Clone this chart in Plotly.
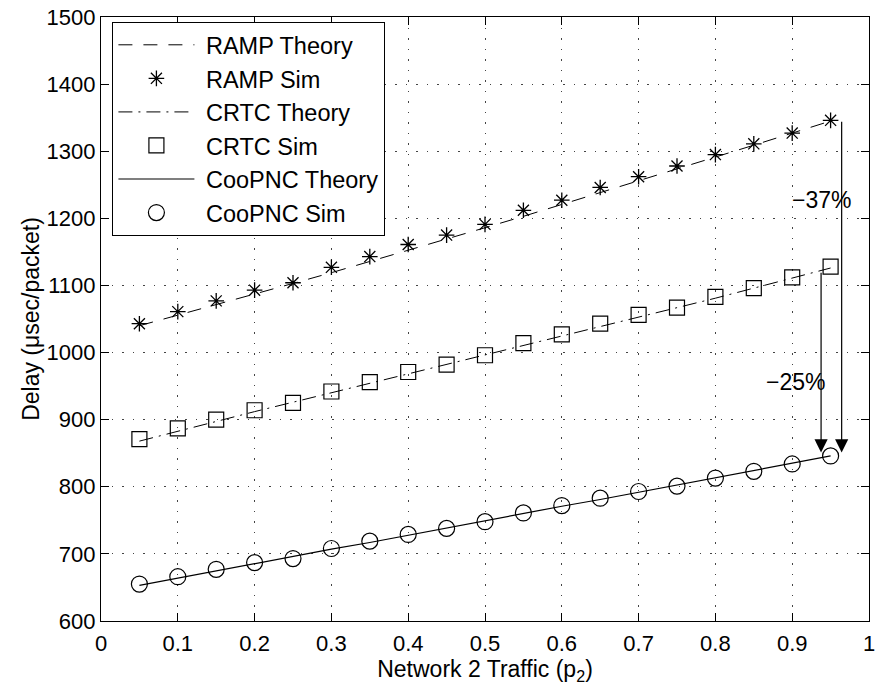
import plotly.graph_objects as go

x_vals = [0.05, 0.10, 0.15, 0.20, 0.25, 0.30, 0.35, 0.40, 0.45, 0.50,
          0.55, 0.60, 0.65, 0.70, 0.75, 0.80, 0.85, 0.90, 0.95]

ramp_theory = [1040, 1055.5, 1071, 1087, 1103, 1119, 1135.5, 1152, 1169, 1186,
               1203, 1220.5, 1238, 1255.5, 1273, 1291, 1309, 1327, 1345]
ramp_sim = [1043, 1061, 1077, 1093, 1104, 1127, 1143, 1161, 1175, 1191,
            1212, 1227, 1246, 1262, 1278, 1295, 1311, 1327, 1346]
crtc_theory = [868, 883, 898, 912, 926, 940, 954, 968, 982, 996,
               1010, 1024, 1038, 1052, 1066, 1081, 1096, 1111, 1126]
crtc_sim = [871, 887, 900, 914, 925, 942, 956, 971, 982, 996,
            1014, 1027, 1043, 1056, 1067, 1083, 1096, 1112, 1128]
coop_theory = [653, 664, 675, 685, 696, 707, 717, 728, 739, 749,
               760, 771, 781, 792, 803, 814, 824, 835, 846]
coop_sim = [655, 666, 677, 687, 693, 708, 719, 729, 738, 748,
            761, 772, 783, 793, 801, 813, 823, 834, 846]

x_ticks = [0, 0.1, 0.2, 0.3, 0.4, 0.5, 0.6, 0.7, 0.8, 0.9, 1]
x_ticktext = ["0", "0.1", "0.2", "0.3", "0.4", "0.5", "0.6", "0.7", "0.8", "0.9", "1"]
y_ticks = [600, 700, 800, 900, 1000, 1100, 1200, 1300, 1400, 1500]

FONT = "Liberation Sans, Arial, Helvetica, sans-serif"
BLK = "black"
PAD = "\u00a0"

fig = go.Figure()
fig.add_trace(go.Scatter(x=x_vals, y=ramp_theory, mode="lines", name=PAD + "RAMP Theory",
                         legendgroup="a",
                         line=dict(color=BLK, width=1, dash="14px,11px")))
fig.add_trace(go.Scatter(x=x_vals, y=ramp_sim, mode="markers", name=PAD + "RAMP Sim",
                         legendgroup="b",
                         marker=dict(symbol="asterisk-open", size=13, color=BLK,
                                     line=dict(color=BLK, width=1.3))))
fig.add_trace(go.Scatter(x=x_vals, y=crtc_theory, mode="lines", name=PAD + "CRTC Theory",
                         legendgroup="c",
                         line=dict(color=BLK, width=1, dash="14px,6px,2px,6px")))
fig.add_trace(go.Scatter(x=x_vals, y=crtc_sim, mode="markers", name=PAD + "CRTC Sim",
                         legendgroup="d",
                         marker=dict(symbol="square-open", size=15, color=BLK,
                                     line=dict(color=BLK, width=1.2))))
fig.add_trace(go.Scatter(x=x_vals, y=coop_theory, mode="lines", name=PAD + "CooPNC Theory",
                         legendgroup="e",
                         line=dict(color=BLK, width=1.2)))
fig.add_trace(go.Scatter(x=x_vals, y=coop_sim, mode="markers", name=PAD + "CooPNC Sim",
                         legendgroup="f",
                         marker=dict(symbol="circle-open", size=16, color=BLK,
                                     line=dict(color=BLK, width=1.2))))

# arrows
fig.add_annotation(x=0.9644, y=851, ax=0.9644, ay=ramp_sim[-1], xref="x", yref="y",
                   axref="x", ayref="y", showarrow=True, arrowhead=2, arrowsize=2.2,
                   arrowwidth=1.2, arrowcolor=BLK, text="")
fig.add_annotation(x=0.9376, y=851, ax=0.9376, ay=1121, xref="x", yref="y",
                   axref="x", ayref="y", showarrow=True, arrowhead=2, arrowsize=2.2,
                   arrowwidth=1.2, arrowcolor=BLK, text="")
fig.add_annotation(x=0.9385, y=1227, text="\u221237%", showarrow=False,
                   font=dict(family=FONT, size=23, color=BLK))
fig.add_annotation(x=0.904, y=956, text="\u221225%", showarrow=False,
                   font=dict(family=FONT, size=23, color=BLK))

axis_common = dict(showline=True, linecolor=BLK, linewidth=1.2, mirror="allticks",
                   ticks="inside", ticklen=8, tickcolor=BLK, tickwidth=1,
                   showgrid=True, gridcolor="#444", gridwidth=1,
                   griddash="1.5px,9px", zeroline=False,
                   ticklabeloverflow="allow",
                   tickfont=dict(family=FONT, size=22, color=BLK))

fig.update_xaxes(range=[0, 1], tickvals=x_ticks, ticktext=x_ticktext,
                 ticklabelstandoff=2,
                 title=dict(text="Network 2 Traffic (p<sub>2</sub>)",
                            font=dict(family=FONT, size=23, color=BLK), standoff=6),
                 **axis_common)
fig.update_yaxes(range=[600, 1500], tickvals=y_ticks,
                 title=dict(text="Delay (\u03bcsec/packet)",
                            font=dict(family=FONT, size=23, color=BLK), standoff=0),
                 **axis_common)

fig.update_layout(
    width=880, height=691,
    margin=dict(l=101, r=5, t=12, b=70),
    paper_bgcolor="white", plot_bgcolor="white",
    font=dict(family=FONT, size=22, color=BLK),
    showlegend=True,
    legend=dict(x=0.0146, y=0.992, xanchor="left", yanchor="top",
                bgcolor="white", bordercolor=BLK, borderwidth=1.2,
                font=dict(family=FONT, size=23.5, color=BLK),
                itemwidth=76, tracegroupgap=7.5, traceorder="normal"),
)

fig.write_html("out.html")
